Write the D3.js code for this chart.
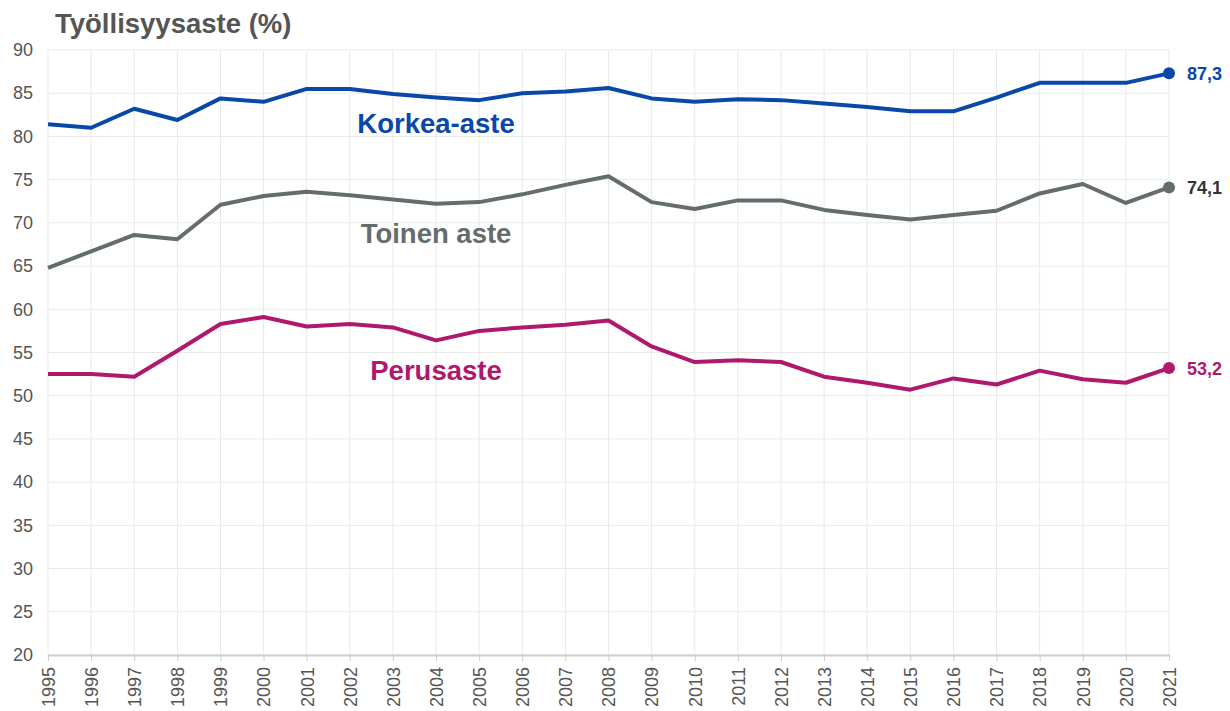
<!DOCTYPE html>
<html>
<head>
<meta charset="utf-8">
<script src="https://cdn.jsdelivr.net/npm/d3@7"></script>
<style>
  body { margin: 0; background: #fff; }
  svg { display: block; font-family: "Liberation Sans", Arial, sans-serif; }
  .grid line { stroke: #e9e9e9; stroke-width: 1; }
</style>
</head>
<body>
<svg id="chart" width="1230" height="711"></svg>
<script>
const years = d3.range(1995, 2022);
const yTicks = [20, 25, 30, 35, 40, 45, 50, 55, 60, 65, 70, 75, 80, 85, 90];

const korkea = [81.4, 81.0, 83.2, 81.9, 84.4, 84.0, 85.5, 85.5, 84.9, 84.5,
  84.2, 85.0, 85.2, 85.6, 84.4, 84.0, 84.3, 84.2, 83.8, 83.4,
  82.9, 82.9, 84.5, 86.2, 86.2, 86.2, 87.3];
const toinen = [64.8, 66.7, 68.6, 68.1, 72.1, 73.1, 73.6, 73.2, 72.7, 72.2,
  72.4, 73.3, 74.4, 75.4, 72.4, 71.6, 72.6, 72.6, 71.5, 70.9,
  70.4, 70.9, 71.4, 73.4, 74.5, 72.3, 74.1];
const perus = [52.5, 52.5, 52.2, 55.2, 58.3, 59.1, 58.0, 58.3, 57.9, 56.4,
  57.5, 57.9, 58.2, 58.7, 55.7, 53.9, 54.1, 53.9, 52.2, 51.5,
  50.7, 52.0, 51.3, 52.9, 51.9, 51.5, 53.2];

const series = [
  { name: 'Korkea-aste', values: korkea, color: '#0848a8', labelY: 80.4, endText: '87,3' },
  { name: 'Toinen aste', values: toinen, color: '#646d6c', labelY: 67.7, endText: '74,1', endColor: '#333' },
  { name: 'Perusaste', values: perus, color: '#b0186e', labelY: 51.8, endText: '53,2' }
];

const svg = d3.select('#chart');
const margin = { left: 48, right: 61, top: 50, bottom: 56 };
const width = 1230, height = 711;

const x = d3.scaleLinear().domain([1995, 2021]).range([margin.left, width - margin.right]);
const y = d3.scaleLinear().domain([20, 90]).range([height - margin.bottom, margin.top]);

// grid
const grid = svg.append('g').attr('class', 'grid');
grid.selectAll('.v').data(years).enter().append('line')
  .attr('x1', d => x(d)).attr('x2', d => x(d))
  .attr('y1', y(90)).attr('y2', y(20));
grid.selectAll('.h').data(yTicks).enter().append('line')
  .attr('x1', x(1995)).attr('x2', x(2021))
  .attr('y1', d => y(d)).attr('y2', d => y(d));

// y axis labels
const yAxis = svg.append('g')
  .attr('transform', `translate(${x(1995)},0)`)
  .call(d3.axisLeft(y).tickValues(yTicks).tickSize(0).tickPadding(15));
yAxis.select('.domain').remove();
yAxis.selectAll('text')
  .attr('fill', '#555')
  .attr('font-size', 18)
  .attr('font-family', '"Liberation Sans", Arial, sans-serif');

// x axis
const xAxis = svg.append('g')
  .attr('transform', `translate(0,${y(20)})`)
  .call(d3.axisBottom(x).tickValues(years).tickFormat(d3.format('d')).tickSize(6).tickSizeOuter(0));
xAxis.select('.domain').attr('stroke', '#d0d0d0').attr('stroke-width', 2);
xAxis.selectAll('.tick line').attr('stroke', '#ccc');
xAxis.selectAll('text')
  .attr('fill', '#555')
  .attr('font-size', 18)
  .attr('font-family', '"Liberation Sans", Arial, sans-serif')
  .attr('transform', 'rotate(-90)')
  .attr('text-anchor', 'end')
  .attr('x', -12)
  .attr('y', 0)
  .attr('dy', '0.35em');

// lines
const line = d3.line()
  .x((d, i) => x(years[i]))
  .y(d => y(d));

series.forEach(s => {
  svg.append('path')
    .datum(s.values)
    .attr('fill', 'none')
    .attr('stroke', s.color)
    .attr('stroke-width', 4)
    .attr('stroke-linejoin', 'round')
    .attr('d', line);

  const last = s.values[s.values.length - 1];
  svg.append('circle')
    .attr('cx', x(2021))
    .attr('cy', y(last))
    .attr('r', 6)
    .attr('fill', s.color);

  svg.append('text')
    .attr('x', x(2021) + 18)
    .attr('y', y(last))
    .attr('dy', '0.36em')
    .attr('font-size', 18)
    .attr('font-weight', 'bold')
    .attr('fill', s.endColor || s.color)
    .text(s.endText);

  svg.append('text')
    .attr('x', x(2004))
    .attr('y', y(s.labelY))
    .attr('text-anchor', 'middle')
    .attr('font-size', 27.5)
    .attr('font-weight', 'bold')
    .attr('fill', s.color)
    .text(s.name);
});

// title
svg.append('text')
  .attr('x', 55)
  .attr('y', 33)
  .attr('font-size', 27.5)
  .attr('font-weight', 'bold')
  .attr('fill', '#555')
  .text('Työllisyysaste (%)');
</script>
</body>
</html>
